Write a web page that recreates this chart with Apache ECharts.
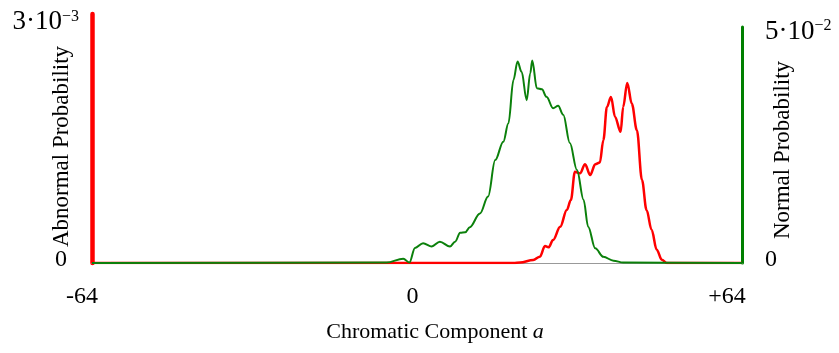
<!DOCTYPE html>
<html>
<head>
<meta charset="utf-8">
<script src="https://cdn.jsdelivr.net/npm/echarts@6/dist/echarts.min.js"></script>
<style>
  html, body { margin: 0; padding: 0; background: #fff; }
  #chart { width: 839px; height: 353px; }
</style>
</head>
<body>
<div id="chart"></div>
<script>
// chromatic component a (x) and probabilities
const xTicks = [-64, 0, 64];

const normalA = [-64, -6, -2.7, -1.5, -0.4, 1.2, 2.9, 4.5, 6.5, 7.5, 8.5, 9.5, 10.4, 12.4, 14.0, 15.4, 17.0, 18.0, 19.0, 19.8, 20.6, 21.6, 22.3, 22.7, 23.6, 24.6, 25.5, 26.8, 27.8, 28.8, 30.1, 31.5, 32.8, 33.7, 35.1, 36.7, 38.7, 40.6, 64];
const normalP = [0, 0.0001, 0.0009, 0.0001, 0.0032, 0.0042, 0.0035, 0.0045, 0.0035, 0.0045, 0.0064, 0.0065, 0.0076, 0.0105, 0.0141, 0.0218, 0.0257, 0.0296, 0.0388, 0.0427, 0.0405, 0.0345, 0.0402, 0.0429, 0.0370, 0.0368, 0.0352, 0.0328, 0.0333, 0.0314, 0.0254, 0.0197, 0.0134, 0.0077, 0.0031, 0.0013, 0.0005, 0.0001, 0];

const abnormalA = [-64, 19.0, 20.3, 22.9, 24.2, 25.2, 25.9, 26.8, 28.2, 29.5, 30.3, 31.1, 32.1, 33.1, 34.1, 35.1, 36.0, 36.7, 37.4, 38.2, 39.0, 40.1, 40.6, 41.4, 42.3, 43.3, 44.3, 45.2, 46.2, 47.2, 48.2, 49.2, 64];
const abnormalP = [0, 0, 0.000005, 0.000036, 0.000076, 0.000205, 0.000189, 0.000277, 0.000437, 0.000639, 0.000759, 0.00110, 0.00108, 0.00119, 0.00106, 0.00119, 0.00121, 0.00148, 0.00188, 0.00200, 0.00176, 0.00158, 0.00188, 0.00217, 0.00192, 0.00160, 0.00100, 0.00064, 0.00040, 0.00016, 0.00004, 0, 0];

const abnormalMax = 0.003;
const normalMax = 0.05;

function pairs(xs, ys) {
  let out = [];
  for (let i = 0; i < xs.length; i++) {
    out.push([xs[i], ys[i]]);
  }
  return out;
}

const serif = '"Liberation Serif", "DejaVu Serif", serif';

let chart = echarts.init(document.getElementById('chart'));
let option = {
  animation: false,
  textStyle: { fontFamily: serif, color: '#000' },
  grid: [
    { left: 92, right: 97, top: 14, bottom: 90, outerBoundsMode: 'none' },
    { left: 92, right: 97, top: 27, bottom: 90, outerBoundsMode: 'none' }
  ],
  xAxis: [
    {
      type: 'value',
      gridIndex: 0,
      min: xTicks[0],
      max: xTicks[2],
      interval: 64,
      axisLine: { onZero: false, lineStyle: { color: '#999', width: 1 } },
      axisTick: { show: false },
      splitLine: { show: false },
      axisLabel: {
        margin: 22,
        formatter: function (v) {
          if (v === xTicks[0]) return '{l|-64}';
          if (v === xTicks[2]) return '{r|+64}';
          return '{m|0}';
        },
        rich: {
          l: { fontSize: 24, fontFamily: serif, color: '#000', padding: [0, 20, 0, 0] },
          m: { fontSize: 24, fontFamily: serif, color: '#000', padding: [0, 9, 0, 0] },
          r: { fontSize: 24, fontFamily: serif, color: '#000', padding: [0, 30, 0, 0] }
        }
      },
      name: 'Chromatic Component {i|a}',
      nameLocation: 'middle',
      nameGap: 58,
      nameMoveOverlap: false,
      nameTextStyle: {
        fontSize: 22,
        fontFamily: serif,
        color: '#000',
        padding: [0, 0, 0, 36],
        rich: {
          i: { fontSize: 22, fontFamily: serif, fontStyle: 'italic', color: '#000' }
        }
      }
    },
    {
      type: 'value',
      gridIndex: 1,
      min: xTicks[0],
      max: xTicks[2],
      interval: 64,
      show: false
    }
  ],
  yAxis: [
    {
      type: 'value',
      gridIndex: 0,
      position: 'left',
      min: 0,
      max: abnormalMax,
      interval: abnormalMax,
      axisLine: { show: true, onZero: false, lineStyle: { color: '#ff0000', width: 4.5 } },
      axisTick: { show: false },
      splitLine: { show: false },
      axisLabel: {
        margin: 13,
        formatter: function (v) {
          return v === 0 ? '{z|0}' : '{b|3·10}{s|−3}';
        },
        rich: {
          z: { fontSize: 24, fontFamily: serif, color: '#000', padding: [0, 12, 6, 0] },
          b: { fontSize: 27, fontFamily: serif, color: '#000', padding: [16, 0, 0, 0] },
          s: { fontSize: 16, fontFamily: serif, color: '#000', padding: [6, 0, 0, 0] }
        }
      },
      name: 'Abnormal Probability',
      nameLocation: 'middle',
      nameRotate: 90,
      nameGap: 19,
      nameMoveOverlap: false,
      nameTextStyle: { fontSize: 23, fontFamily: serif, color: '#000', padding: [0, 16, 0, 0] }
    },
    {
      type: 'value',
      gridIndex: 1,
      position: 'right',
      min: 0,
      max: normalMax,
      interval: normalMax,
      axisLine: { show: true, onZero: false, lineStyle: { color: '#008000', width: 3 } },
      axisTick: { show: false },
      splitLine: { show: false },
      axisLabel: {
        margin: 23,
        formatter: function (v) {
          return v === 0 ? '{z|0}' : '{b|5·10}{s|−2}';
        },
        rich: {
          z: { fontSize: 24, fontFamily: serif, color: '#000', padding: [0, 0, 6, 0] },
          b: { fontSize: 27, fontFamily: serif, color: '#000', padding: [10, 0, 0, 0] },
          s: { fontSize: 16, fontFamily: serif, color: '#000', padding: [0, 0, 2, 0] }
        }
      },
      name: 'Normal Probability',
      nameLocation: 'middle',
      nameRotate: 90,
      nameGap: 29,
      nameMoveOverlap: false,
      nameTextStyle: { fontSize: 23, fontFamily: serif, color: '#000', padding: [0, 10, 0, 0] }
    }
  ],
  series: [
    {
      name: 'Abnormal',
      type: 'line',
      xAxisIndex: 0,
      yAxisIndex: 0,
      data: pairs(abnormalA, abnormalP),
      smooth: 0.35,
      smoothMonotone: 'x',
      showSymbol: false,
      z: 2,
      lineStyle: { color: '#ff0000', width: 2.5 }
    },
    {
      name: 'Normal',
      type: 'line',
      xAxisIndex: 1,
      yAxisIndex: 1,
      data: pairs(normalA, normalP),
      smooth: 0.35,
      smoothMonotone: 'x',
      showSymbol: false,
      z: 3,
      lineStyle: { color: '#0b800b', width: 2 }
    }
  ]
};
chart.setOption(option);
</script>
</body>
</html>
